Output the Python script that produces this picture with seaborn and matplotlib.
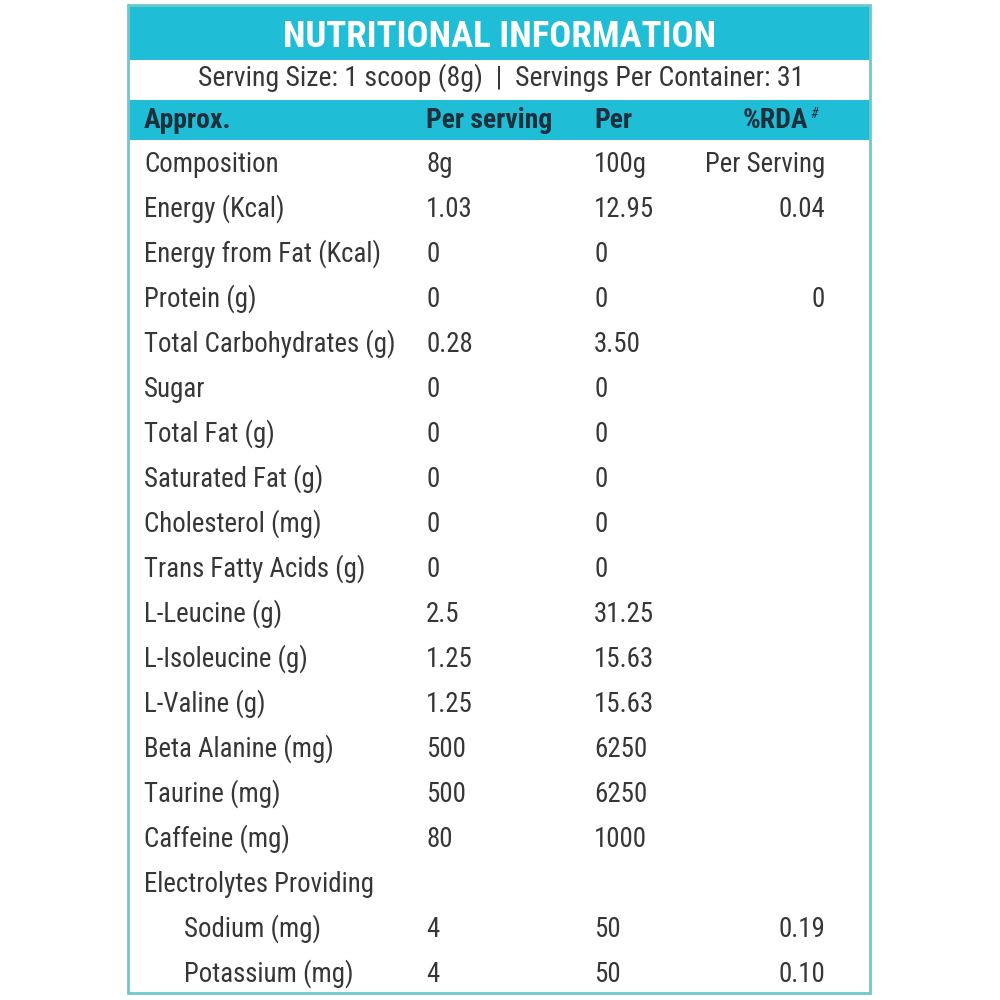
import matplotlib
matplotlib.use("Agg")
import matplotlib.pyplot as plt
import seaborn as sns

# ---------------- data ----------------
title = "NUTRITIONAL INFORMATION"
serving_line = "Serving Size: 1 scoop (8g)  |  Servings Per Container: 31"
headers = ["Approx.", "Per serving", "Per", "%RDA"]
nutrients = ["Composition", "Energy (Kcal)", "Energy from Fat (Kcal)", "Protein (g)",
             "Total Carbohydrates (g)", "Sugar", "Total Fat (g)", "Saturated Fat (g)",
             "Cholesterol (mg)", "Trans Fatty Acids (g)", "L-Leucine (g)",
             "L-Isoleucine (g)", "L-Valine (g)", "Beta Alanine (mg)", "Taurine (mg)",
             "Caffeine (mg)", "Electrolytes Providing", "Sodium (mg)", "Potassium (mg)"]
per_serving = ["8g", "1.03", "0", "0", "0.28", "0", "0", "0", "0", "0", "2.5",
               "1.25", "1.25", "500", "500", "80", "", "4", "4"]
per_100g = ["100g", "12.95", "0", "0", "3.50", "0", "0", "0", "0", "0", "31.25",
            "15.63", "15.63", "6250", "6250", "1000", "", "50", "50"]
rda = ["Per Serving", "0.04", "", "0", "", "", "", "", "", "", "", "", "", "",
       "", "", "", "0.19", "0.10"]
indented = ["Sodium (mg)", "Potassium (mg)"]

# ---------------- style ----------------
sns.set_theme(style="white")
plt.rcParams['font.family'] = ['Roboto Condensed', 'DejaVu Sans']

CYAN = "#1fbed6"
BORDER = "#6ec8cc"
TXT = "#363636"
HDR = "#1b2f3c"

fig = plt.figure(figsize=(10, 10), dpi=100)
ax = fig.add_axes([0, 0, 1, 1])
ax.set_xlim(0, 1000)
ax.set_ylim(1000, 0)
ax.axis('off')

L, R, T, B = 128, 870, 5, 993
# bands
ax.fill_between([L, R], T, 60, color=CYAN, lw=0, zorder=1)
ax.fill_between([L, R], 100, 140, color=CYAN, lw=0, zorder=1)
# outer border
ax.plot([L, R, R, L, L], [T, T, B, B, T], color=BORDER, lw=2.0, zorder=3,
        solid_joinstyle='miter')

# title
ax.text(500, 47, title, color="white", fontsize=26.5, fontweight='bold',
        ha='center', va='baseline', zorder=4)
ax.text(501, 86, serving_line, color=TXT, fontsize=20, ha='center', va='baseline', zorder=4)

# header
hy = 128
ax.text(144, hy, headers[0], color=HDR, fontsize=20, fontweight='bold', ha='left', va='baseline')
ax.text(426, hy, headers[1], color=HDR, fontsize=20, fontweight='bold', ha='left', va='baseline')
ax.text(594, hy, headers[2], color=HDR, fontsize=20, fontweight='bold', ha='left', va='baseline')
ax.text(808, hy, headers[3], color=HDR, fontsize=20, fontweight='bold', ha='right', va='baseline')
ax.text(810, hy - 10, "#", color=HDR, fontsize=10, fontstyle='italic', ha='left', va='baseline')

# rows
y0, dy = 172, 45
for i, name in enumerate(nutrients):
    y = y0 + dy * i
    x = 184 if name in indented else 144
    ax.text(x, y, name, color=TXT, fontsize=19.4, ha='left', va='baseline')
    ax.text(426, y, per_serving[i], color=TXT, fontsize=19.4, ha='left', va='baseline')
    ax.text(594, y, per_100g[i], color=TXT, fontsize=19.4, ha='left', va='baseline')
    ax.text(825, y, rda[i], color=TXT, fontsize=19.4, ha='right', va='baseline')

fig.savefig("out.png", dpi=100, facecolor="white")
